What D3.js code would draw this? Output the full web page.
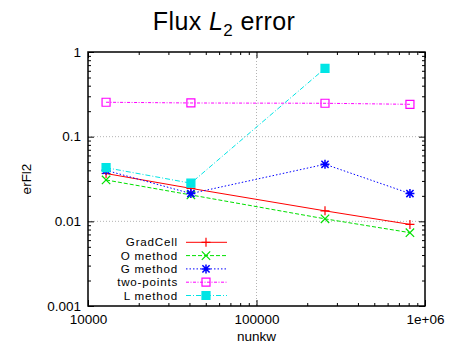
<!DOCTYPE html>
<html><head><meta charset="utf-8">
<script src="https://cdn.jsdelivr.net/npm/d3@7"></script>
<style>
html,body{margin:0;padding:0;background:#fff;}
svg{display:block;font-family:"Liberation Sans",Arial,Helvetica,sans-serif;}
</style></head>
<body>
<svg id="chart" width="449" height="347"></svg>
<script>
const nunkw = [12800, 40800, 255000, 814000];
const gradCell = [0.0367, 0.0245, 0.0133, 0.0092];
const oMethod = [0.0308, 0.0205, 0.0107, 0.00735];
const gMethod = [0.040, 0.0213, 0.0472, 0.0213];
const twoPoints = [0.255, 0.25, 0.248, 0.241];
const lMethod = [0.043, 0.0282, 0.64];
const seriesNames = ["GradCell", "O method", "G method", "two-points", "L method"];
const xMajor = [1e4, 1e5, 1e6];
const xMajorLabels = ["10000", "100000", "1e+06"];
const yMajor = [0.001, 0.01, 0.1, 1];
const yMajorLabels = ["0.001", "0.01", "0.1", "1"];

const W = 449, H = 347;
const L = 88, R = 425, T = 52, B = 306;
const svg = d3.select("#chart");
const x = d3.scaleLog().domain([1e4, 1e6]).range([L, R]);
const y = d3.scaleLog().domain([0.001, 1]).range([B, T]);

function minors(lo, hi) {
  const out = [];
  for (let d = lo; d < hi; d *= 10) for (let k = 2; k <= 9; k++) out.push(d * k);
  return out;
}
const xMinor = minors(1e4, 1e6);
const yMinor = minors(0.001, 1);

// grid
const grid = svg.append("g").attr("stroke", "#a0a0a0").attr("stroke-width", 0.8).attr("stroke-dasharray", "1,2");
grid.selectAll("line.gx").data([1e5]).enter().append("line")
  .attr("x1", d => x(d)).attr("x2", d => x(d)).attr("y1", T).attr("y2", B);
grid.selectAll("line.gy").data([0.01, 0.1]).enter().append("line")
  .attr("x1", L).attr("x2", R).attr("y1", d => y(d)).attr("y2", d => y(d));

// axes
function styleAxis(g) {
  g.select(".domain").remove();
  g.selectAll(".tick line").attr("stroke", "#000").attr("stroke-width", 1);
  g.selectAll("text").attr("font-size", 13.5).attr("fill", "#000")
    .attr("font-family", '"Liberation Sans",Arial,Helvetica,sans-serif');
}
svg.append("g").attr("transform", `translate(0,${B})`)
  .call(d3.axisBottom(x).tickValues(xMajor).tickFormat((d, i) => xMajorLabels[i]).tickSize(-6).tickPadding(8))
  .call(styleAxis);
svg.append("g").attr("transform", `translate(0,${B})`)
  .call(d3.axisBottom(x).tickValues(xMinor).tickFormat("").tickSize(-3)).call(styleAxis);
svg.append("g").attr("transform", `translate(0,${T})`)
  .call(d3.axisTop(x).tickValues(xMajor).tickFormat("").tickSize(-6)).call(styleAxis);
svg.append("g").attr("transform", `translate(0,${T})`)
  .call(d3.axisTop(x).tickValues(xMinor).tickFormat("").tickSize(-3)).call(styleAxis);
svg.append("g").attr("transform", `translate(${L},0)`)
  .call(d3.axisLeft(y).tickValues(yMajor).tickFormat((d, i) => yMajorLabels[i]).tickSize(-6).tickPadding(7))
  .call(styleAxis);
svg.append("g").attr("transform", `translate(${L},0)`)
  .call(d3.axisLeft(y).tickValues(yMinor).tickFormat("").tickSize(-3)).call(styleAxis);
svg.append("g").attr("transform", `translate(${R},0)`)
  .call(d3.axisRight(y).tickValues(yMajor).tickFormat("").tickSize(-6)).call(styleAxis);
svg.append("g").attr("transform", `translate(${R},0)`)
  .call(d3.axisRight(y).tickValues(yMinor).tickFormat("").tickSize(-3)).call(styleAxis);

svg.append("rect").attr("x", L).attr("y", T).attr("width", R - L).attr("height", B - T)
  .attr("fill", "none").attr("stroke", "#000").attr("stroke-width", 1.5);

// series
const series = [
  {name: seriesNames[0], vals: gradCell, color: "#ff0000", dash: null, marker: "plus"},
  {name: seriesNames[1], vals: oMethod, color: "#00e000", dash: "4,2", marker: "cross"},
  {name: seriesNames[2], vals: gMethod, color: "#0000ff", dash: "1.5,2", marker: "star"},
  {name: seriesNames[3], vals: twoPoints, color: "#ff00ff", dash: "3,1.5,1,1.5", marker: "box"},
  {name: seriesNames[4], vals: lMethod, color: "#00e5e5", dash: "5,2,1,2", marker: "fbox"}
];
const line = d3.line().x(d => x(d[0])).y(d => y(d[1]));

function markerPath(type, cx, cy) {
  const s = 4.5;
  const p = d3.path();
  if (type === "plus" || type === "star") {
    p.moveTo(cx - s, cy); p.lineTo(cx + s, cy); p.moveTo(cx, cy - s); p.lineTo(cx, cy + s);
  }
  if (type === "cross" || type === "star") {
    const c = type === "star" ? 3.6 : 4.2;
    p.moveTo(cx - c, cy - c); p.lineTo(cx + c, cy + c); p.moveTo(cx - c, cy + c); p.lineTo(cx + c, cy - c);
  }
  if (type === "box" || type === "fbox") {
    p.rect(cx - 4, cy - 4, 8, 8);
  }
  return p.toString();
}
function drawMarker(g, s, cx, cy) {
  g.append("path").attr("d", markerPath(s.marker, cx, cy))
    .attr("stroke", s.color).attr("stroke-width", s.marker === "star" ? 1.5 : 1.2)
    .attr("fill", s.marker === "fbox" ? s.color : "none");
}

const plotG = svg.append("g");
series.forEach(s => {
  const pts = s.vals.map((v, i) => [nunkw[i], v]);
  plotG.append("path").datum(pts).attr("d", line).attr("fill", "none")
    .attr("stroke", s.color).attr("stroke-width", 1).attr("stroke-dasharray", s.dash);
  pts.forEach(p => drawMarker(plotG, s, x(p[0]), y(p[1])));
});

// legend
const legY0 = 242.3, legDy = 13.3;
const leg = svg.append("g");
series.forEach((s, i) => {
  const yy = legY0 + i * legDy;
  leg.append("text").attr("x", 178).attr("y", yy).attr("dy", "0.35em")
    .attr("text-anchor", "end").attr("font-size", 11.6).attr("letter-spacing", 0.8).text(s.name);
  leg.append("line").attr("x1", 186).attr("x2", 227).attr("y1", yy).attr("y2", yy)
    .attr("stroke", s.color).attr("stroke-width", 1).attr("stroke-dasharray", s.dash);
  drawMarker(leg, s, 206, yy);
});

// labels
const title = svg.append("text").attr("x", 224).attr("y", 29.5).attr("text-anchor", "middle")
  .attr("font-size", 25).attr("letter-spacing", 0.4);
title.append("tspan").text("Flux ");
title.append("tspan").attr("font-style", "italic").text("L");
title.append("tspan").attr("font-size", 17).attr("dy", 6).text("2");
title.append("tspan").attr("dy", -6).text(" error");

svg.append("text").attr("x", (L + R) / 2).attr("y", 341).attr("text-anchor", "middle")
  .attr("font-size", 13.5).text("nunkw");
svg.append("text").attr("transform", `translate(31,${(T + B) / 2}) rotate(-90)`)
  .attr("text-anchor", "middle").attr("font-size", 13.5).text("erFl2");
</script>
</body></html>
